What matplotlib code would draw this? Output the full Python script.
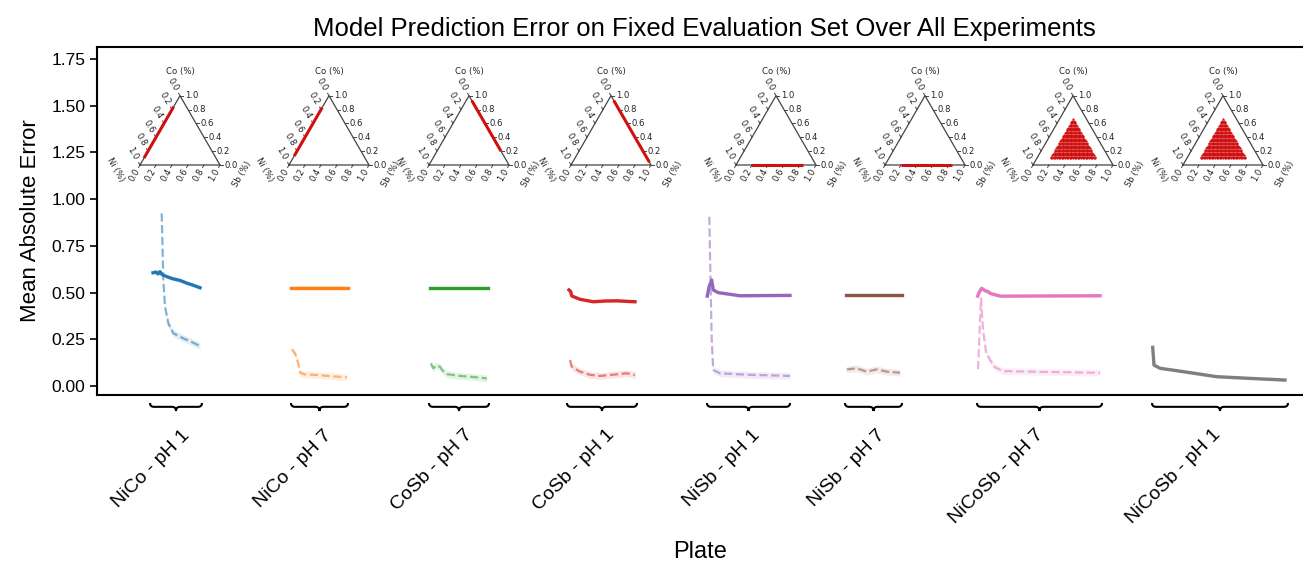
import numpy as np
import matplotlib
matplotlib.use("Agg")
import matplotlib.pyplot as plt
from matplotlib.path import Path
from matplotlib.patches import PathPatch
from matplotlib.transforms import blended_transform_factory, ScaledTranslation

plt.rcParams['font.family'] = ['Liberation Sans', 'DejaVu Sans']

# ---- data ----
plates = ["NiCo - pH 1", "NiCo - pH 7", "CoSb - pH 7", "CoSb - pH 1",
          "NiSb - pH 1", "NiSb - pH 7", "NiCoSb - pH 7", "NiCoSb - pH 1"]
plate_start = [53, 194, 332, 470, 610, 748, 880, 1055]
plate_end = [105, 251, 392, 540, 693, 805, 1005, 1191]

# solid: error on the fixed evaluation set
solid_x = [
    [56, 59, 61, 63, 64.5, 66, 70, 75, 83, 90, 96, 103],
    [194, 251],
    [333, 391],
    [472, 473.7, 474.7, 483, 496.3, 508, 519.7, 538],
    [610.3, 612, 614.7, 616.3, 621, 626.3, 643, 663, 693],
    [748.7, 804.7],
    [880.7, 882, 884.7, 888, 891.3, 893, 903, 953, 1003],
    [1055.7, 1057, 1063, 1086.3, 1119.7, 1153, 1188],
]
solid_y = [
    [0.606, 0.61, 0.60, 0.612, 0.60, 0.594, 0.585, 0.575, 0.565, 0.55, 0.54, 0.526],
    [0.526, 0.526],
    [0.524, 0.524],
    [0.514, 0.505, 0.482, 0.464, 0.451, 0.455, 0.456, 0.451],
    [0.481, 0.53, 0.567, 0.514, 0.50, 0.496, 0.483, 0.484, 0.485],
    [0.487, 0.487],
    [0.481, 0.50, 0.523, 0.51, 0.505, 0.496, 0.481, 0.482, 0.483],
    [0.207, 0.112, 0.095, 0.077, 0.05, 0.041, 0.032],
]
# dashed: error on the plate's own samples
dash_x = [
    [64.7, 65.5, 66.3, 68, 71.3, 76.3, 81, 86.3, 93, 103],
    [194.7, 198, 201.3, 203, 208, 219.7, 233, 249.7],
    [333.7, 336.3, 339, 343, 346, 349.7, 363, 373, 389.7],
    [473, 474.7, 483, 493, 503, 515, 529.7, 538],
    [612.3, 613.7, 614.7, 616.3, 623, 653, 693],
    [749.7, 759.7, 769.7, 779.7, 789.7, 803],
    [881, 884, 886, 889, 893, 898, 906, 953, 1003],
    [],
]
dash_y = [
    [0.924, 0.75, 0.567, 0.424, 0.335, 0.282, 0.27, 0.255, 0.24, 0.214],
    [0.196, 0.175, 0.121, 0.071, 0.062, 0.059, 0.053, 0.047],
    [0.121, 0.095, 0.11, 0.103, 0.08, 0.064, 0.054, 0.05, 0.041],
    [0.139, 0.103, 0.077, 0.06, 0.054, 0.06, 0.068, 0.059],
    [0.906, 0.514, 0.246, 0.086, 0.068, 0.06, 0.054],
    [0.089, 0.095, 0.077, 0.089, 0.077, 0.071],
    [0.09, 0.47, 0.30, 0.18, 0.14, 0.10, 0.08, 0.075, 0.071],
    [],
]

# sampled compositions (Ni, Co, Sb) for each plate
comp_from = [(0.90, 0.10, 0.0), (0.87, 0.13, 0.0), (0.0, 0.93, 0.07), (0.0, 0.93, 0.07),
             (0.81, 0.0, 0.19), (0.80, 0.0, 0.20), None, None]
comp_to = [(0.16, 0.84, 0.0), (0.17, 0.83, 0.0), (0.0, 0.20, 0.80), (0.0, 0.04, 0.96),
           (0.16, 0.0, 0.84), (0.16, 0.0, 0.84), None, None]
cloud_min = (0.17, 0.10, 0.17)   # minimum Ni, Co, Sb in the full ternary plates
cloud_step = 0.02

colors = ['#1f77b4', '#ff7f0e', '#2ca02c', '#d62728',
          '#9467bd', '#8c564b', '#e377c2', '#7f7f7f']
tern_red = '#d01010'

W, H = 1303, 562
fig = plt.figure(figsize=(W / 100, H / 100), dpi=100)
ax = fig.add_axes([97 / W, 1 - 395 / H, 1 - 97 / W, (395 - 47) / H])

for i in range(len(plates)):
    c = colors[i]
    if dash_x[i]:
        dx, dy = np.array(dash_x[i]), np.array(dash_y[i])
        ax.fill_between(dx, dy - 0.018, dy + 0.018, color=c, alpha=0.12, lw=0)
        ax.plot(dx, dy, '--', color=c, lw=1.6, alpha=0.55)
    sx, sy = np.array(solid_x[i]), np.array(solid_y[i])
    ax.fill_between(sx, sy - 0.008, sy + 0.008, color=c, alpha=0.12, lw=0)
    ax.plot(sx, sy, '-', color=c, lw=2.4)

ax.set_xlim(0, 1206)
ax.set_ylim(-0.048, 1.814)
ax.set_yticks(np.arange(0, 1.76, 0.25))
ax.set_yticklabels([f"{v:.2f}" for v in np.arange(0, 1.76, 0.25)], fontsize=12.5)
ax.tick_params(axis='y', length=5, width=1.2)
for s in ['top', 'left', 'bottom']:
    ax.spines[s].set_linewidth(1.5)
ax.spines['right'].set_visible(False)

# x tick labels: anchored near each brace, small horizontal nudges (px)
label_nudge = [11, 10, 11, 10, 9, 9, 1, -2]
mids = [(a + b) / 2 for a, b in zip(plate_start, plate_end)]
ax.set_xticks(mids)
ax.set_xticklabels(plates, fontsize=14, rotation=45, ha='right', va='center',
                   rotation_mode='anchor')
ax.tick_params(axis='x', length=0, pad=27)
for lab, n in zip(ax.get_xticklabels(), label_nudge):
    lab.set_transform(lab.get_transform() + ScaledTranslation(n / 100, 0, fig.dpi_scale_trans))

ax.set_ylabel("Mean Absolute Error", fontsize=16, labelpad=7)
ax.set_xlabel("Plate", fontsize=17)
ax.xaxis.set_label_coords(0.5, -0.42)
ax.set_title("Model Prediction Error on Fixed Evaluation Set Over All Experiments",
             fontsize=18.5, pad=8, x=0.504)

# braces under each plate
bt = blended_transform_factory(ax.transData, ax.transAxes)
y_top, y_mid, y_tip = -0.023, -0.034, -0.046
for a, b in zip(plate_start, plate_end):
    m = (a + b) / 2
    r = 4
    verts = [(a, y_top), (a, y_mid), (a + r, y_mid),
             (m - r, y_mid), (m, y_mid), (m, y_tip),
             (m, y_mid), (m + r, y_mid),
             (b - r, y_mid), (b, y_mid), (b, y_top)]
    codes = [Path.MOVETO, Path.CURVE3, Path.CURVE3,
             Path.LINETO, Path.CURVE3, Path.CURVE3,
             Path.CURVE3, Path.CURVE3,
             Path.LINETO, Path.CURVE3, Path.CURVE3]
    ax.add_patch(PathPatch(Path(verts, codes), transform=bt, fill=False,
                           lw=1.5, color='black', clip_on=False))

# ternary insets
tern_cx = [180, 329, 469, 611, 776, 925, 1073, 1223]
side = 80.0
base_y = 165
h = np.sqrt(3) / 2


def to_xy(ni, co, sb):
    return sb + 0.5 * co, h * co


ticks = [0.0, 0.2, 0.4, 0.6, 0.8, 1.0]
tk = dict(fontsize=6.1, color='#222222', family='DejaVu Sans')
for i, cx in enumerate(tern_cx):
    left = cx - 0.5 * side - 0.4 * side
    bottom_px = base_y + 0.3 * side
    ta = fig.add_axes([left / W, 1 - bottom_px / H, 1.8 * side / W, 1.5 * side / H])
    ta.set_xlim(-0.4, 1.4)
    ta.set_ylim(-0.3, 1.2)
    ta.axis('off')
    ta.plot([0, 1, 0.5, 0], [0, 0, h, 0], color='#444444', lw=0.9, zorder=3)
    L = 0.035
    for v in ticks:
        # right edge: Co
        x, y = 1 - 0.5 * v, h * v
        ta.plot([x, x + L], [y, y], color='#444444', lw=0.7)
        ta.text(x + 0.06, y, f"{v:.1f}", ha='left', va='center', **tk)
        # left edge: Ni
        x, y = 0.5 * (1 - v), h * (1 - v)
        ta.plot([x, x - 0.5 * L], [y, y + h * L], color='#444444', lw=0.7)
        ta.text(x - 0.09, y + 0.14, f"{v:.1f}", ha='center', va='center', rotation=-60, **tk)
        # bottom edge: Sb
        x, y = v, 0
        ta.plot([x, x - 0.5 * L], [y, y - h * L], color='#444444', lw=0.7)
        ta.text(x - 0.07, y - 0.12, f"{v:.1f}", ha='center', va='center', rotation=60, **tk)
    ta.text(0.5, h + 0.3, "Co (%)", ha='center', va='center', **tk)
    ta.text(-0.3, -0.06, "Ni (%)", ha='center', va='center', rotation=-60, **tk)
    ta.text(1.27, -0.11, "Sb (%)", ha='center', va='center', rotation=60, **tk)
    if comp_from[i] is not None:
        p0 = to_xy(*comp_from[i])
        p1 = to_xy(*comp_to[i])
        ta.plot([p0[0], p1[0]], [p0[1], p1[1]], color=tern_red, lw=2.2,
                solid_capstyle='butt', zorder=4)
    else:
        pts = []
        for co in np.arange(cloud_min[1], 1 - cloud_min[0] - cloud_min[2] + 1e-9, cloud_step):
            for sb in np.arange(cloud_min[2], 1 - co - cloud_min[0] + 1e-9, cloud_step):
                pts.append(to_xy(1 - co - sb, co, sb))
        pts = np.array(pts)
        ta.scatter(pts[:, 0], pts[:, 1], s=2.5, color=tern_red, lw=0, zorder=4)

fig.savefig("out.png", dpi=100)
